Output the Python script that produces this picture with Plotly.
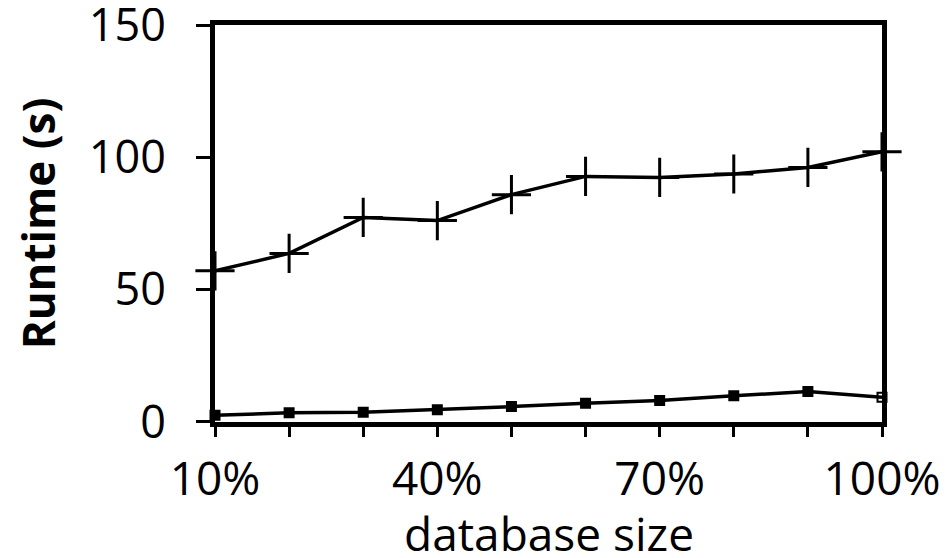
import plotly.graph_objects as go

x_pct = [10, 20, 30, 40, 50, 60, 70, 80, 90, 100]
runtime_top = [57.1, 63.7, 77.3, 76.1, 85.9, 92.8, 92.4, 93.7, 96.2, 102.1]
runtime_bottom = [2.5, 3.5, 3.7, 4.6, 5.8, 7.1, 8.1, 9.9, 11.5, 9.3]
x_tick_vals = [10, 20, 30, 40, 50, 60, 70, 80, 90, 100]
x_tick_text = ["10%", "", "", "40%", "", "", "70%", "", "", "100%"]
y_tick_vals = [0, 50, 100, 150]
x_title = "database size"
y_title = "<b>Runtime (s)</b>"

font_family = "Open Sans"

fig = go.Figure()
fig.add_trace(go.Scatter(
    x=x_pct, y=runtime_top, mode="lines+markers",
    line=dict(color="black", width=3.5),
    marker=dict(symbol="cross-thin", size=28, line=dict(color="black", width=3)),
    showlegend=False, cliponaxis=False,
))
fig.add_trace(go.Scatter(
    x=x_pct, y=runtime_bottom, mode="lines+markers",
    line=dict(color="black", width=3.5),
    marker=dict(symbol=["square"] * 9 + ["square-open"], size=9, color="black",
                line=dict(color="black", width=2)),
    showlegend=False, cliponaxis=False,
))

# page body has an 8px default margin, so the figure is 8px smaller than the window
fig.update_layout(
    width=939, height=550,
    margin=dict(l=207, r=65, t=17, b=136, autoexpand=False),
    paper_bgcolor="white", plot_bgcolor="white",
    font=dict(family=font_family, color="black", size=40),
    xaxis=dict(
        range=[10, 100], tickvals=x_tick_vals, ticktext=x_tick_text,
        ticks="outside", ticklen=10, tickwidth=2.5, tickcolor="black",
        showline=True, linecolor="black", linewidth=5, mirror=True,
        showgrid=False, zeroline=False, automargin=True,
        tickfont=dict(size=46, family=font_family),
        ticklabelstandoff=3, ticklabeloverflow="allow",
    ),
    yaxis=dict(
        range=[-0.01, 150.01], tickvals=y_tick_vals,
        ticks="outside", ticklen=14, tickwidth=2.5, tickcolor="black",
        showline=True, linecolor="black", linewidth=5, mirror=True,
        showgrid=False, zeroline=False, automargin=True,
        tickfont=dict(size=45, family=font_family),
        ticklabelstandoff=21, ticklabeloverflow="allow",
        title=dict(text=y_title, font=dict(size=44, family=font_family), standoff=33),
    ),
    annotations=[dict(
        text=x_title, xref="paper", yref="paper", x=0.5, y=0,
        xanchor="center", yanchor="top", yshift=-78, showarrow=False,
        font=dict(size=46, family=font_family, color="black"),
    )],
)

fig.write_html("out.html")
